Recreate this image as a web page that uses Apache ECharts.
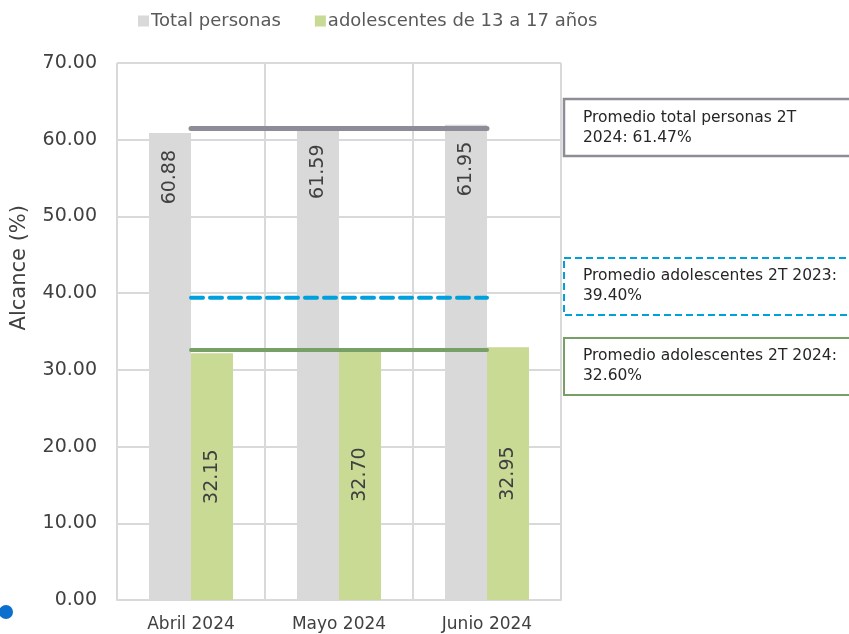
<!DOCTYPE html>
<html>
<head>
<meta charset="utf-8">
<script src="https://cdn.jsdelivr.net/npm/echarts@6/dist/echarts.min.js"></script>
<style>
html,body{margin:0;padding:0;background:#fff;}
#chart{width:849px;height:634px;}
</style>
</head>
<body>
<div id="chart"></div>
<script>
const categories = ["Abril 2024", "Mayo 2024", "Junio 2024"];
const totalPersonas = [60.88, 61.59, 61.95];
const adolescentes = [32.15, 32.70, 32.95];
const promTotal2024 = [61.47, 61.47, 61.47];
const promAdol2023 = [39.40, 39.40, 39.40];
const promAdol2024 = [32.60, 32.60, 32.60];
const yTicks = [0, 10, 20, 30, 40, 50, 60, 70];
const seriesNames = ["Total personas", "adolescentes de 13 a 17 años"];
const notes = ["Promedio total personas 2T\n2024: 61.47%", "Promedio adolescentes 2T 2023:\n39.40%", "Promedio adolescentes 2T 2024:\n32.60%"];

const FONT = "DejaVu Sans";
const chart = echarts.init(document.getElementById('chart'), null, {renderer: 'canvas'});
const option = {
  animation: false,
  textStyle: {fontFamily: FONT},
  legend: {
    data: seriesNames,
    top: 7, left: 133,
    itemWidth: 11, itemHeight: 11, itemGap: 34,
    icon: 'rect',
    textStyle: {fontFamily: FONT, fontSize: 18, color: '#595959', padding: [0,0,0,-3]}
  },
  grid: {left: 117, right: 288, top: 63, bottom: 34, containLabel: false},
  xAxis: {
    type: 'category',
    data: categories,
    axisLine: {show: true, lineStyle: {color: '#D9D9D9', width: 2}},
    axisTick: {show: false},
    splitLine: {show: true, lineStyle: {color: '#D9D9D9', width: 2}},
    axisLabel: {fontFamily: FONT, fontSize: 17, color: '#404040', margin: 16}
  },
  yAxis: {
    type: 'value',
    min: yTicks[0], max: yTicks[yTicks.length-1], interval: 10,
    axisLine: {show: false},
    axisTick: {show: false},
    splitLine: {lineStyle: {color: '#D9D9D9', width: 2}},
    axisLabel: {fontFamily: FONT, fontSize: 19, color: '#404040', margin: 20,
      formatter: v => v.toFixed(2)}
  },
  series: [
    {
      name: seriesNames[0], type: 'bar', data: totalPersonas,
      barWidth: 42, barGap: '0%',
      itemStyle: {color: '#D9D9D9'},
      label: {show: true, position: 'insideTop', rotate: 90, align: 'right', verticalAlign: 'middle',
        distance: 17, fontFamily: FONT, fontSize: 19, color: '#404040', formatter: p => p.value.toFixed(2)}
    },
    {
      name: seriesNames[1], type: 'bar', data: adolescentes,
      barWidth: 42, barGap: '0%',
      itemStyle: {color: '#C9DA95'},
      label: {show: true, position: 'inside', rotate: 90,
        fontFamily: FONT, fontSize: 19, color: '#404040', formatter: p => p.value.toFixed(2)}
    },
    {
      name: 'promTotal', type: 'line', data: promTotal2024, symbol: 'none', z: 5,
      lineStyle: {color: '#8E8C96', width: 5, cap: 'round'}
    },
    {
      name: 'promAdol2023', type: 'line', data: promAdol2023, symbol: 'none', z: 5,
      lineStyle: {color: '#00A0DC', width: 4, type: [12, 7], cap: 'round'}
    },
    {
      name: 'promAdol2024', type: 'line', data: promAdol2024, symbol: 'none', z: 5,
      lineStyle: {color: '#78A066', width: 4, cap: 'round'}
    }
  ],
  graphic: [
    {type: 'text', left: 9, top: 205, rotation: Math.PI/2,
      style: {text: 'Alcance (%)', fontFamily: FONT, fontSize: 21, fill: '#404040'}},
    {type: 'circle', shape: {cx: 6, cy: 612, r: 7}, style: {fill: '#0B6FCE'}},
    {type: 'rect', shape: {x: 564, y: 99, width: 300, height: 57},
      style: {fill: '#fff', stroke: '#8E8C96', lineWidth: 2.5}},
    {type: 'text', x: 583, y: 108,
      style: {text: notes[0], fontFamily: FONT, fontSize: 15.5, lineHeight: 20, fill: '#262626'}},
    {type: 'rect', shape: {x: 564, y: 258, width: 300, height: 57},
      style: {fill: '#fff', stroke: '#00A0DC', lineWidth: 2, lineDash: [7, 4]}},
    {type: 'text', x: 583, y: 266,
      style: {text: notes[1], fontFamily: FONT, fontSize: 15.5, lineHeight: 20, fill: '#262626'}},
    {type: 'rect', shape: {x: 564, y: 338, width: 300, height: 57},
      style: {fill: '#fff', stroke: '#78A066', lineWidth: 2}},
    {type: 'text', x: 583, y: 346,
      style: {text: notes[2], fontFamily: FONT, fontSize: 15.5, lineHeight: 20, fill: '#262626'}}
  ]
};
chart.setOption(option);
</script>
</body>
</html>
